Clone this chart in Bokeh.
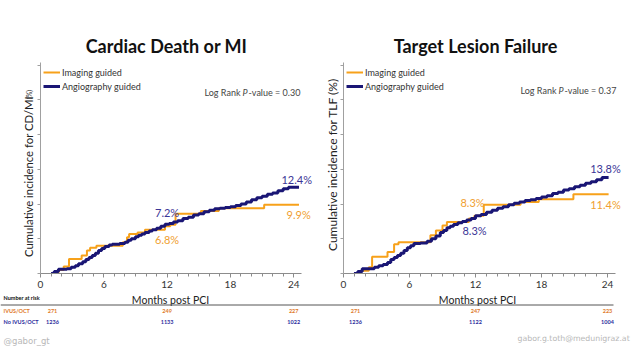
import math
from bokeh.plotting import figure
from bokeh.models import Label, Legend, LegendItem, Arrow, FixedTicker, Range1d
from bokeh.layouts import row, column
from bokeh.embed import file_html
from bokeh.resources import INLINE

# ---------------- data ----------------
x_ticks = [0, 6, 12, 18, 24]
y_ticks = [0, 5, 10, 15, 20, 25, 30]
minor_x_ticks = list(range(0, 25))

# Cardiac death or MI - imaging guided (orange)
cd_img_t = [1.2, 1.7, 2.2, 2.7, 3.9, 4.4, 4.7, 5.3, 7.8, 8.2, 8.4, 9.2, 9.9, 11.8, 12.3, 12.8, 15.2, 16.9, 21.2, 24.5]
cd_img_v = [0.0, 0.5, 1.0, 2.1, 2.6, 3.3, 3.7, 4.0, 4.5, 5.2, 5.7, 5.9, 6.3, 6.8, 7.0, 8.6, 9.0, 9.4, 9.9, 9.9]
# Cardiac death or MI - angiography guided (navy)
cd_ang_t = [1.0, 1.3, 1.7, 2.5, 2.9, 3.3, 3.6, 4.0, 4.3, 4.6, 4.9, 5.2, 5.5, 5.8, 6.1, 6.5, 6.8, 7.5, 8.0, 8.3, 8.6,
            9.0, 9.3, 9.6, 9.9, 10.3, 10.6, 11.0, 11.4, 11.8, 12.2, 12.6, 13.0, 13.5, 14.0, 14.5, 15.0, 15.5,
            16.0, 16.5, 17.0, 17.5, 18.0, 18.5, 19.0, 19.5, 20.0, 20.5, 21.0, 21.5, 22.0, 22.5, 23.0, 23.5, 24.5]
cd_ang_v = [0.0, 0.3, 0.6, 0.7, 0.9, 1.1, 1.4, 1.7, 2.0, 2.3, 2.6, 2.9, 3.3, 3.6, 3.9, 4.1, 4.2, 4.3, 4.5, 4.8, 5.0,
            5.3, 5.5, 5.7, 5.9, 6.1, 6.3, 6.5, 6.8, 7.1, 7.2, 7.4, 7.6, 7.9, 8.1, 8.4, 8.6, 8.9,
            9.1, 9.3, 9.4, 9.5, 9.6, 9.8, 10.0, 10.3, 10.6, 10.9, 11.1, 11.4, 11.6, 11.9, 12.2, 12.4, 12.4]

# Target lesion failure - imaging guided (orange)
tlf_img_t = [1.1, 1.6, 2.3, 2.6, 4.0, 4.6, 5.0, 7.9, 8.4, 9.0, 9.4, 11.4, 11.9, 12.75, 16.1, 17.75, 20.9, 24.1]
tlf_img_v = [0.0, 0.4, 0.9, 2.4, 3.1, 4.2, 4.5, 5.5, 6.2, 6.9, 7.4, 7.9, 8.3, 9.9, 10.3, 10.7, 11.4, 11.4]
# Target lesion failure - angiography guided (navy)
tlf_ang_t = [0.95, 1.3, 1.7, 2.8, 3.2, 3.6, 4.0, 4.3, 4.6, 4.9, 5.2, 5.5, 5.8, 6.1, 6.4, 7.0, 7.6, 8.0, 8.4, 8.8,
             9.1, 9.4, 9.7, 10.0, 10.4, 10.8, 11.2, 11.6, 12.0, 12.5, 13.0, 13.5, 14.0, 14.5, 15.0, 15.5, 16.0,
             16.5, 17.0, 17.5, 18.0, 18.5, 19.0, 19.5, 20.0, 20.5, 21.0, 21.5, 22.0, 22.5, 23.0, 23.5, 24.1]
tlf_ang_v = [0.0, 0.3, 0.7, 0.9, 1.1, 1.3, 1.6, 2.0, 2.3, 2.6, 2.9, 3.3, 3.7, 4.0, 4.3, 4.4, 4.65, 5.0, 5.4, 5.9,
             6.2, 6.6, 6.8, 7.05, 7.3, 7.5, 7.7, 7.9, 8.3, 8.5, 8.8, 9.1, 9.4, 9.6, 9.9, 10.1, 10.3,
             10.5, 10.6, 10.8, 11.0, 11.2, 11.5, 11.7, 12.0, 12.2, 12.5, 12.7, 13.0, 13.2, 13.5, 13.8, 13.8]

risk_months = [0, 12, 24]
cd_risk_img = [271, 249, 227]
cd_risk_ang = [1236, 1133, 1022]
tlf_risk_img = [271, 247, 223]
tlf_risk_ang = [1236, 1122, 1004]

cd_pvalue = "0.30"
tlf_pvalue = "0.37"

# (value, month, series, dx, dy)
cd_ann = [(12.4, 24, "ang", 3, 8), (9.9, 24, "img", 5, -10), (7.2, 12, "ang", 0, 11), (6.8, 12, "img", 0, -13)]
tlf_ann = [(13.8, 24, "ang", -2, 9), (11.4, 24, "img", -2, -10.5), (8.3, 12, "img", -3, 13.5), (8.3, 12, "ang", -1, -15)]

# ---------------- style / layout ----------------
ORANGE = "#F7A11A"
NAVY = "#1A1675"
ORANGE_TXT = "#F0A030"
NAVY_TXT = "#3B3596"
RISK_ORANGE = "#E07A28"
RISK_NAVY = "#2B2A9C"
FONT = "Lato"
TOP_H = 293          # height of upper row (plots)
FOOT_H = 67          # height of risk-table footer
AXIS_BOTTOM = 20     # space under the x axis line inside the plot figure
PX_PER_PCT = 6.95
FRAME_H = TOP_H - AXIS_BOTTOM


def blank(width, height):
    f = figure(width=width, height=height, x_range=Range1d(0, width), y_range=Range1d(0, height),
               x_axis_type=None, y_axis_type=None, min_border=0, output_backend="svg",
               toolbar_location=None, title=None)
    f.outline_line_color = None
    f.grid.visible = False
    return f


def slab(f, **kw):
    base = dict(x_units="screen", y_units="screen", text_font=FONT, text_baseline="middle")
    base.update(kw)
    f.add_layout(Label(**base))


def make_main(width, px_per_month, title, title_x, img_t, img_v, ang_t, ang_v, pval, pv_x, pv_y, ann):
    frame_w = width - 4
    p = figure(width=width, height=TOP_H, x_range=Range1d(0, frame_w / px_per_month),
               y_range=Range1d(0, FRAME_H / PX_PER_PCT), output_backend="svg",
               toolbar_location=None, title=None,
               min_border_left=4, min_border_right=0, min_border_top=0,
               min_border_bottom=AXIS_BOTTOM)
    p.outline_line_color = None
    p.grid.visible = False

    p.xaxis.ticker = FixedTicker(ticks=x_ticks, minor_ticks=minor_x_ticks)
    p.xaxis.bounds = (0, 24.72)
    p.xaxis.axis_line_color = "#8c8c8c"
    p.xaxis.major_tick_line_color = "#8c8c8c"
    p.xaxis.minor_tick_line_color = "#8c8c8c"
    p.xaxis.major_tick_out = 4
    p.xaxis.major_tick_in = 0
    p.xaxis.minor_tick_out = 3
    p.xaxis.minor_tick_in = 0
    p.xaxis.major_label_standoff = 3
    p.xaxis.major_label_text_font = FONT
    p.xaxis.major_label_text_font_size = "10px"
    p.xaxis.major_label_text_color = "#333333"

    # unlabeled y ticks: drawn as minor ticks so no empty labels are produced
    p.yaxis.ticker = FixedTicker(ticks=[], minor_ticks=y_ticks)
    p.yaxis.bounds = (0, 30.3)
    p.yaxis.axis_line_color = "#a0a0a0"
    p.yaxis.minor_tick_line_color = "#a0a0a0"
    p.yaxis.minor_tick_out = 3
    p.yaxis.minor_tick_in = 0
    p.yaxis.major_tick_line_color = None
    p.yaxis.major_label_standoff = 0

    r_img = p.step(img_t, img_v, mode="after", line_color=ORANGE, line_width=2)
    r_ang = p.step(ang_t, ang_v, mode="after", line_color=NAVY, line_width=3)

    legend = Legend(items=[LegendItem(label="Imaging guided", renderers=[r_img]),
                           LegendItem(label="Angiography guided", renderers=[r_ang])],
                    location=(3, 181), border_line_color=None, background_fill_alpha=0,
                    padding=0, margin=0, spacing=2, glyph_width=17, glyph_height=12,
                    label_height=12, label_standoff=2, label_text_font=FONT,
                    label_text_font_size="9px", label_text_color="#333333")
    p.add_layout(legend)

    slab(p, x=title_x, y=228, text=title, text_font_size="18px", text_font_style="bold",
         text_align="center", text_color="#111111")
    slab(p, x=pv_x, y=pv_y, text="Log Rank", text_font_size="9px", text_align="left",
         text_color="#444444")
    slab(p, x=pv_x + 38, y=pv_y, text="P", text_font_size="9px", text_font_style="italic",
         text_align="left", text_color="#444444")
    slab(p, x=pv_x + 44, y=pv_y, text="-value = " + pval, text_font_size="9px",
         text_align="left", text_color="#444444")

    for val, month, series, dx, dy in ann:
        p.add_layout(Label(x=month, y=val, x_offset=dx, y_offset=dy, text=f"{val}%",
                           text_font=FONT, text_font_size="11px", text_align="center",
                           text_baseline="middle",
                           text_color=NAVY_TXT if series == "ang" else ORANGE_TXT))
    return p


# ---- left panel ----
ylab_l = blank(36, TOP_H)
slab(ylab_l, x=27.5, y=TOP_H - 196, text="Cumulative incidence for CD/MI", angle=math.pi / 2,
     text_font_size="11.3px", text_align="center", text_color="#222222")
slab(ylab_l, x=28.5, y=TOP_H - 114, text="(%)", angle=math.pi / 2, text_font_size="7px",
     text_align="center", text_color="#222222")
main_l = make_main(284, 10.55, "Cardiac Death or MI", 126, cd_img_t, cd_img_v, cd_ang_t, cd_ang_v,
                   cd_pvalue, 164, 181, cd_ann)

# ---- right panel ----
ylab_r = blank(19, TOP_H)
slab(ylab_r, x=12, y=TOP_H - 184, text="Cumulative incidence for TLF (%)", angle=math.pi / 2,
     text_font_size="12px", text_align="center", text_color="#222222")
main_r = make_main(301, 11.0, "Target Lesion Failure", 132, tlf_img_t, tlf_img_v, tlf_ang_t, tlf_ang_v,
                   tlf_pvalue, 177, 183, tlf_ann)

# ---- footer: axis titles, number at risk, watermarks ----
foot = blank(640, FOOT_H)
slab(foot, x=170, y=FOOT_H - 6, text="Months post PCI", text_font_size="10.5px",
     text_align="center", text_color="#222222")
slab(foot, x=477, y=FOOT_H - 6, text="Months post PCI", text_font_size="10.5px",
     text_align="center", text_color="#222222")
slab(foot, x=3, y=FOOT_H - 4, text="Number at risk", text_font_size="5.5px", text_font_style="bold",
     text_align="left", text_color="#111111")
foot.add_layout(Arrow(x_start=0, y_start=FOOT_H - 11.5, x_end=613, y_end=FOOT_H - 11.5,
                      start_units="screen", end_units="screen", start=None, end=None,
                      line_color="#555555", line_width=1))
slab(foot, x=3, y=FOOT_H - 17, text="IVUS/OCT", text_font_size="5.5px", text_font_style="bold",
     text_align="left", text_color=RISK_ORANGE)
slab(foot, x=3, y=FOOT_H - 28, text="No IVUS/OCT", text_font_size="5.5px", text_font_style="bold",
     text_align="left", text_color=RISK_NAVY)

for x0, ppm, r_img, r_ang in [(40, 10.55, cd_risk_img, cd_risk_ang), (343, 11.0, tlf_risk_img, tlf_risk_ang)]:
    for i, (m, a, b) in enumerate(zip(risk_months, r_img, r_ang)):
        off = 12 if i == 0 else 0
        xx = x0 + m * ppm + off
        slab(foot, x=xx, y=FOOT_H - 17, text=str(a), text_font_size="5.5px", text_font_style="bold",
             text_align="center", text_color=RISK_ORANGE)
        slab(foot, x=xx, y=FOOT_H - 28, text=str(b), text_font_size="5.5px", text_font_style="bold",
             text_align="center", text_color=RISK_NAVY)

slab(foot, x=3, y=FOOT_H - 47, text="@gabor_gt", text_font="DejaVu Sans", text_font_size="8.5px",
     text_align="left", text_color="#b8b8b8")
slab(foot, x=517, y=FOOT_H - 45, text="gabor.g.toth@medunigraz.at", text_font="DejaVu Sans",
     text_font_size="7.8px", text_align="left", text_color="#b8b8b8")

layout = column(row(ylab_l, main_l, ylab_r, main_r), foot)
open("out.html", "w").write(file_html(layout, INLINE))
